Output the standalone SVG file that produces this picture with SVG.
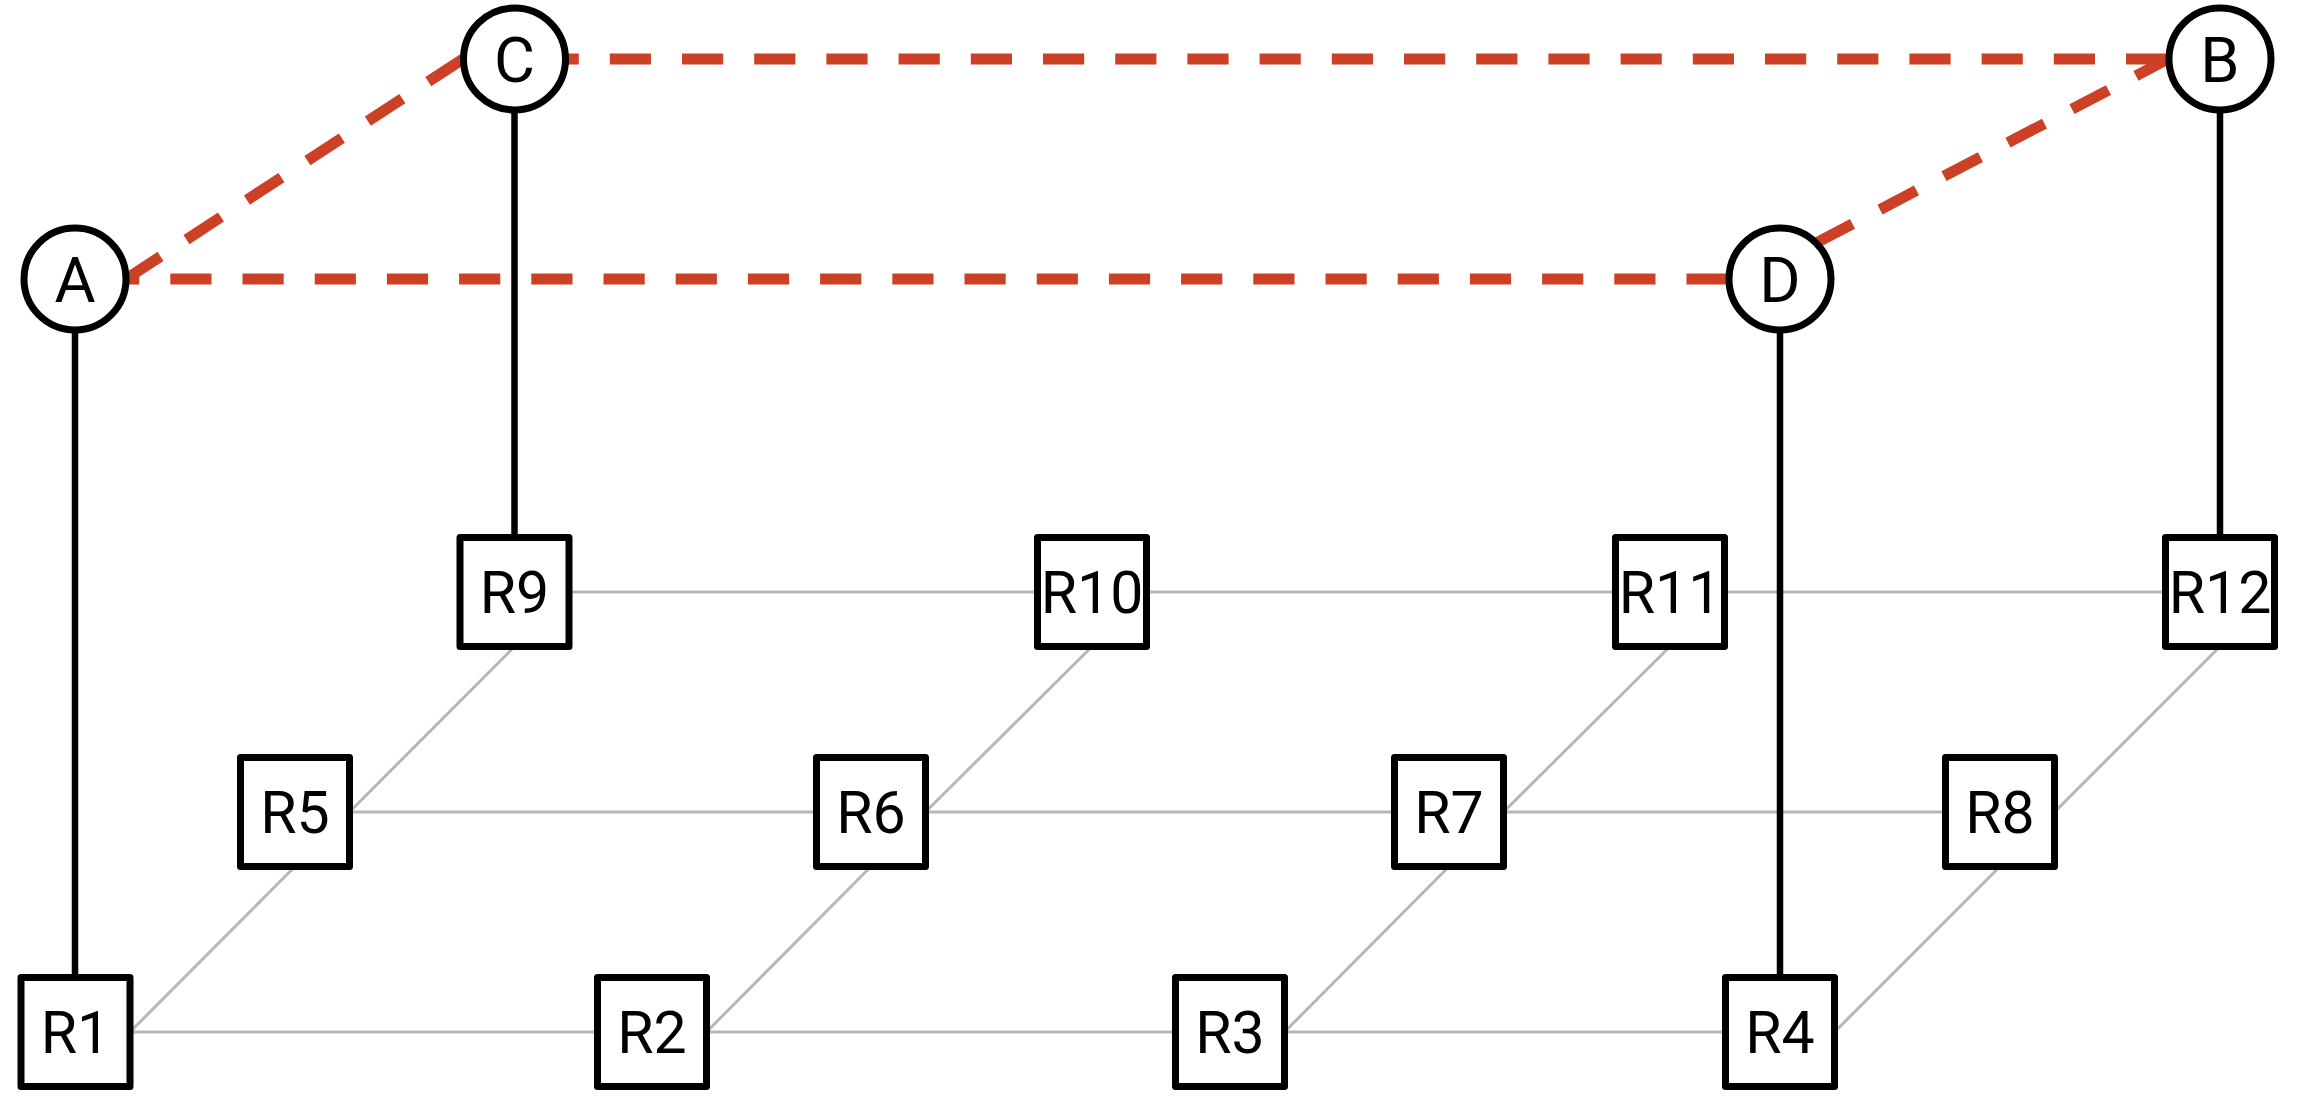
<svg xmlns="http://www.w3.org/2000/svg" width="2310" height="1104" viewBox="0 0 2310 1104">
<style>
.grid{stroke:#b7b7b7;stroke-width:3;fill:none}
.link{stroke:#000;stroke-width:6.5;fill:none}
.dash{stroke:#cc4125;stroke-width:11;fill:none;stroke-dasharray:41.2 31}
.box{fill:#fff;stroke:#000;stroke-width:7;stroke-linejoin:round}
.circ{fill:#fff;stroke:#000;stroke-width:7}
.lbl{font-family:Roboto,"Liberation Sans",sans-serif;font-size:59px;text-anchor:middle;fill:#000}
.clbl{font-family:Roboto,"Liberation Sans",sans-serif;font-size:63px;text-anchor:middle;fill:#000}
</style>
<rect width="2310" height="1104" fill="#fff"/>
<g id="connectors">
  <g id="grid-lines">
    <path class="grid" d="M75.5 1032H1780M295 812H2000M514.5 592H2220"/>
    <path class="grid" d="M130 1032L295 866.5M349.5 812L514.5 646.5"/>
    <path class="grid" d="M706.5 1032L871 866.5M925.5 812L1092 646.5"/>
    <path class="grid" d="M1284.5 1032L1449 866.5M1503.5 812L1670 646.5"/>
    <path class="grid" d="M1834.5 1032L2000 866.5M2054.5 812L2220 646.5"/>
  </g>
  <g id="uplinks">
    <path class="link" d="M75 279V1032"/>
    <path class="link" d="M514.5 59V592"/>
    <path class="link" d="M1780 279V1032"/>
    <path class="link" d="M2220 59V592"/>
  </g>
  <g id="overlay">
    <path class="dash" d="M25.9 279H1728"/>
    <path class="dash" d="M126 279L463 59"/>
    <path class="dash" d="M465.4 59H2168"/>
    <path class="dash" d="M1816 243L2168 59"/>
  </g>
</g>
<g id="node-A"><circle class="circ" cx="75" cy="279" r="51"/><text class="clbl" x="75" y="301.5">A</text></g>
<g id="node-C"><circle class="circ" cx="514.5" cy="59" r="51"/><text class="clbl" x="514.5" y="81.5">C</text></g>
<g id="node-D"><circle class="circ" cx="1780" cy="279" r="51"/><text class="clbl" x="1780" y="301.5">D</text></g>
<g id="node-B"><circle class="circ" cx="2220" cy="59" r="51"/><text class="clbl" x="2220" y="81.5">B</text></g>
<g id="node-R1"><rect class="box" x="21" y="977.5" width="109" height="109"/><text class="lbl" x="75.5" y="1053">R1</text></g>
<g id="node-R2"><rect class="box" x="597.5" y="977.5" width="109" height="109"/><text class="lbl" x="652" y="1053">R2</text></g>
<g id="node-R3"><rect class="box" x="1175.5" y="977.5" width="109" height="109"/><text class="lbl" x="1230" y="1053">R3</text></g>
<g id="node-R4"><rect class="box" x="1725.5" y="977.5" width="109" height="109"/><text class="lbl" x="1780" y="1053">R4</text></g>
<g id="node-R5"><rect class="box" x="240.5" y="757.5" width="109" height="109"/><text class="lbl" x="295" y="833">R5</text></g>
<g id="node-R6"><rect class="box" x="816.5" y="757.5" width="109" height="109"/><text class="lbl" x="871" y="833">R6</text></g>
<g id="node-R7"><rect class="box" x="1394.5" y="757.5" width="109" height="109"/><text class="lbl" x="1449" y="833">R7</text></g>
<g id="node-R8"><rect class="box" x="1945.5" y="757.5" width="109" height="109"/><text class="lbl" x="2000" y="833">R8</text></g>
<g id="node-R9"><rect class="box" x="460" y="537.5" width="109" height="109"/><text class="lbl" x="514.5" y="613">R9</text></g>
<g id="node-R10"><rect class="box" x="1037.5" y="537.5" width="109" height="109"/><text class="lbl" x="1092" y="613">R10</text></g>
<g id="node-R11"><rect class="box" x="1615.5" y="537.5" width="109" height="109"/><text class="lbl" x="1670" y="613">R11</text></g>
<g id="node-R12"><rect class="box" x="2165.5" y="537.5" width="109" height="109"/><text class="lbl" x="2220" y="613">R12</text></g>
</svg>
